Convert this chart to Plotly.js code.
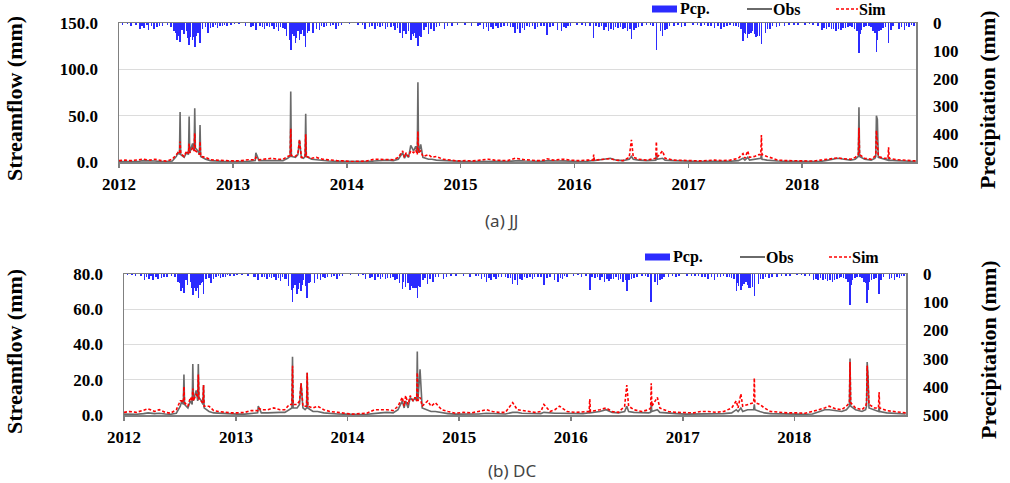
<!DOCTYPE html>
<html><head><meta charset="utf-8">
<script src="https://cdn.plot.ly/plotly-3.0.1.min.js"></script>
<style>html,body{margin:0;padding:0;background:#fff}#chart{width:1010px;height:483px}</style>
</head><body><div id="chart"></div>
<script>
// ---- streamflow (mm): shared dates, observed & simulated for JJ and DC ----
const flowDates = [
 "2012-01-01","2012-01-20","2012-02-10","2012-03-05","2012-03-20","2012-04-10","2012-04-25","2012-05-15","2012-06-01","2012-06-20","2012-07-03","2012-07-08","2012-07-13","2012-07-15","2012-07-17","2012-07-28","2012-08-05","2012-08-11","2012-08-13","2012-08-15","2012-08-24","2012-08-29","2012-08-31","2012-09-02","2012-09-10","2012-09-15","2012-09-17","2012-09-19","2012-10-05","2012-10-20","2012-11-05","2012-11-25","2012-12-15",
 "2013-01-05","2013-01-30","2013-02-20","2013-03-13","2013-03-15","2013-03-25","2013-04-15","2013-05-05","2013-05-25","2013-06-10","2013-06-25","2013-07-03","2013-07-05","2013-07-07","2013-07-20","2013-07-28","2013-08-02","2013-08-08","2013-08-15","2013-08-20","2013-08-22","2013-08-24","2013-09-10","2013-09-25","2013-10-15","2013-11-05","2013-11-30","2013-12-20",
 "2014-01-15","2014-02-10","2014-03-05","2014-03-30","2014-04-20","2014-05-10","2014-05-30","2014-06-15","2014-06-29","2014-07-05","2014-07-10","2014-07-18","2014-07-25","2014-08-03","2014-08-10","2014-08-15","2014-08-17","2014-08-19","2014-08-26","2014-09-02","2014-09-20","2014-10-01","2014-10-15","2014-11-05","2014-11-25","2014-12-20",
 "2015-01-15","2015-02-10","2015-03-05","2015-03-31","2015-04-20","2015-05-10","2015-06-01","2015-06-25","2015-07-10","2015-07-25","2015-08-15","2015-09-05","2015-09-25","2015-10-05","2015-10-25","2015-11-10","2015-11-25","2015-12-20",
 "2016-01-15","2016-02-10","2016-03-01","2016-03-03","2016-03-05","2016-04-05","2016-04-25","2016-05-15","2016-06-05","2016-06-25","2016-07-02","2016-07-08","2016-07-25","2016-08-20","2016-09-12","2016-09-18","2016-09-20","2016-09-22","2016-10-10","2016-10-18","2016-11-15","2016-12-10",
 "2017-01-10","2017-02-05","2017-03-01","2017-03-25","2017-04-20","2017-05-15","2017-06-10","2017-06-25","2017-07-01","2017-07-10","2017-07-16","2017-08-01","2017-08-15","2017-08-21","2017-08-23","2017-08-25","2017-09-10","2017-09-25","2017-10-15","2017-11-10","2017-12-10",
 "2018-01-10","2018-02-05","2018-03-01","2018-03-25","2018-04-10","2018-04-25","2018-05-15","2018-06-05","2018-06-20","2018-06-30","2018-07-02","2018-07-04","2018-07-20","2018-08-10","2018-08-22","2018-08-25","2018-08-27","2018-08-30","2018-09-02","2018-09-20","2018-10-03","2018-10-05","2018-10-07","2018-10-30","2018-11-20","2018-12-15","2018-12-31"
];
const obsJJ = [
 0.5,0.4,0.4,0.8,1.5,0.8,1.0,0.6,0.4,1.0,6,10,8,54,8,5,10,8,49,10,20,12,58,15,12,8,40,6,3,1.5,1,0.8,0.6,
 0.5,0.5,0.8,1.5,10,1.5,1.5,2,2,1.5,4,6,76,6,5,8,24,5,4,6,52,6,3,2.5,1.5,1,0.8,0.6,
 0.3,0.3,0.4,1,1.5,2,1.5,3,10,4,8,5,18,12,17,10,86,10,19,5,3,3,2,1.5,1,0.6,
 0.5,0.4,0.6,1,1,0.8,0.6,1.5,1.5,1,0.8,0.6,0.8,1.5,1,1,1.2,0.8,
 0.6,0.8,1.5,4,1.5,3,4,2,1.5,3,6,3,2,1.5,1.5,2,8,3,4,2,1.5,1,
 0.6,0.5,0.8,0.8,0.6,0.8,1.5,4,2,5,2,3,4,4,8,3,2,1.5,1,0.8,0.6,
 0.5,0.4,0.6,2,3,4,3,2,3,6,59,6,3,2,4,6,50,46,5,3,2,5,2,1.5,1,0.8,0.6
];
const simJJ = [
 1.5,2,1.5,2.5,3,2,3,1.5,1,3,8,10,9,22,9,6,12,9,20,10,15,12,31,12,10,8,22,6,5,2.5,2,1.5,1.2,
 1.2,1.5,2.5,2.5,5,2.5,3,4,3,3,6,7,36,7,6,9,24,5,5,6,30,6,4,5,3,2,1.5,1.2,
 0.5,0.8,1,3,3,3,2.5,5,12,5,10,6,12,10,13,8,33,10,12,6,8,5,6,3,2,1.2,
 1.5,1.2,2,3,2,1.5,1.5,4,3,2.5,2,1.5,2,3.5,2,2.5,3,2,
 1.5,2,2,8,2,3,3.5,2,1.5,5,24,5,3,2,3,4,22,5,12,4,2,1.5,
 1.5,1.2,2,2,1.5,2,4,9,4,12,5,6,8,8,29,8,6,4,2,1.5,1.2,
 1.2,1,2,3,4,4.5,3.5,3,5,8,37,8,4,3,6,8,34,20,6,4,4,16,4,2.5,2,1.5,1.2
];
const obsDC = [
 0.5,0.4,0.4,0.8,1.2,0.8,1.0,0.6,0.4,1.0,5,8,6,23,6,4,8,6,29,8,14,8,29,10,8,6,17,4,2,1.2,1,0.8,0.6,
 0.5,0.5,0.8,1.2,5,1.2,1.2,1.5,1.5,1.5,3,4,33,4,4,6,18,4,3,4,24,4,2,2,1.2,0.8,0.6,0.5,
 0.3,0.3,0.4,1,1.2,1.5,1.2,3,8,4,8,4,10,8,10,8,36,8,26,4,3,2,2,1.2,0.8,0.5,
 0.5,0.4,0.6,1,1,0.8,0.6,1.5,1.5,1,0.8,0.6,0.8,1.5,1,1,1,0.8,
 0.6,0.8,1.2,3,1.2,2,3,1.5,1.2,2,5,2,1.5,1.2,1.2,1.5,6,2,3,1.5,1,0.8,
 0.5,0.5,0.8,0.8,0.6,0.8,1.2,3,2,4,2,3,3,3,6,3,2,1.2,0.8,0.6,0.5,
 0.5,0.4,0.6,2,3,3,2.5,2,3,5,32,5,3,2,3,5,30,22,4,3,2,4,2,1.2,1,0.8,0.6
];
const simDC = [
 1.5,2,1.5,2.5,3.5,2,3,1.5,1,3,8,8,7,16,7,5,10,8,15,8,12,10,23,9,8,7,17,5,5,2.5,2,1.5,1.2,
 1.2,1.5,2.5,2.5,4,3,3,4,3,3,6,6,28,6,6,8,18,5,5,5,24,5,4,5,3,2,1.5,1,
 0.5,0.8,1,3,3,3,2.5,5,10,5,11,6,11,8,10,8,24,8,10,5,8,5,7,3,2,1,
 1.5,1.2,2,3,2,1.5,1.5,7,3,2.5,2,1.5,2,6,2,3,5,2,
 1.5,2,2,9,2,3,4,2,1.5,5,17,5,3,2,3,4,18,5,10,4,2,1.5,
 1.5,1.2,2,2,1.5,2,4,8,4,12,5,6,7,7,21,7,6,4,2,1.5,1.2,
 1.2,1,2,3,4,5,3.5,3,5,7,30,7,4,3,5,7,28,18,6,4,4,13,4,2.5,2,1.5,1.2
];

// ---- precipitation (mm): main rain days, then lighter rain days ----
const pcpDates = [
 "2012-01-12","2012-02-08","2012-02-25","2012-03-08","2012-03-22","2012-04-05","2012-04-22","2012-05-10","2012-06-05","2012-06-25","2012-07-01","2012-07-05","2012-07-10","2012-07-15","2012-07-22","2012-07-27","2012-08-05","2012-08-09","2012-08-13","2012-08-18","2012-08-24","2012-08-27","2012-08-31","2012-09-05","2012-09-10","2012-09-13","2012-09-17","2012-09-25","2012-10-12","2012-10-28","2012-11-12","2012-11-28","2012-12-12","2012-12-26",
 "2013-01-20","2013-02-10","2013-02-28","2013-03-15","2013-03-28","2013-04-12","2013-04-28","2013-05-12","2013-05-27","2013-06-10","2013-06-22","2013-07-01","2013-07-05","2013-07-08","2013-07-12","2013-07-16","2013-07-20","2013-07-24","2013-07-28","2013-08-02","2013-08-06","2013-08-10","2013-08-16","2013-08-22","2013-08-28","2013-09-02","2013-09-15","2013-10-05","2013-10-20","2013-11-10","2013-11-28","2013-12-15",
 "2014-01-10","2014-02-05","2014-03-01","2014-03-15","2014-04-01","2014-04-18","2014-05-05","2014-05-22","2014-06-05","2014-06-20","2014-06-29","2014-07-03","2014-07-10","2014-07-18","2014-07-25","2014-07-30","2014-08-03","2014-08-06","2014-08-10","2014-08-13","2014-08-17","2014-08-21","2014-08-26","2014-09-05","2014-09-20","2014-10-08","2014-10-25","2014-11-10","2014-12-05","2014-12-22",
 "2015-01-15","2015-02-05","2015-02-25","2015-03-15","2015-04-01","2015-04-15","2015-05-01","2015-05-20","2015-06-10","2015-06-25","2015-07-10","2015-07-25","2015-08-10","2015-08-28","2015-09-15","2015-10-05","2015-10-25","2015-11-08","2015-11-20","2015-12-05","2015-12-20",
 "2016-01-10","2016-02-05","2016-03-03","2016-03-20","2016-04-05","2016-04-20","2016-05-05","2016-05-20","2016-06-05","2016-06-20","2016-07-02","2016-07-10","2016-07-25","2016-08-20","2016-09-10","2016-09-20","2016-10-10","2016-10-25","2016-11-15","2016-12-10",
 "2017-01-15","2017-02-10","2017-03-05","2017-03-25","2017-04-15","2017-05-05","2017-05-25","2017-06-10","2017-06-25","2017-06-30","2017-07-03","2017-07-10","2017-07-15","2017-07-20","2017-07-26","2017-08-01","2017-08-05","2017-08-10","2017-08-17","2017-08-23","2017-09-05","2017-09-20","2017-10-10","2017-11-05","2017-12-05",
 "2018-01-10","2018-02-05","2018-03-05","2018-03-20","2018-04-05","2018-04-20","2018-05-05","2018-05-20","2018-06-10","2018-06-25","2018-07-02","2018-07-06","2018-07-10","2018-07-25","2018-08-10","2018-08-16","2018-08-22","2018-08-27","2018-08-31","2018-09-10","2018-09-25","2018-10-05","2018-10-20","2018-11-08","2018-11-25","2018-12-10","2018-12-25",
 "2012-01-28","2012-03-15","2012-03-30","2012-04-14","2012-05-02","2012-05-20","2012-06-15","2012-10-05","2012-10-20","2012-11-05","2012-11-20","2012-12-05",
 "2013-01-05","2013-03-05","2013-04-05","2013-04-20","2013-05-05","2013-05-20","2013-06-02","2013-06-16","2013-09-25","2013-10-12","2013-10-28","2013-11-18","2013-12-05",
 "2014-02-20","2014-03-22","2014-04-10","2014-04-25","2014-05-12","2014-05-30","2014-06-12","2014-09-12","2014-09-28","2014-10-15","2014-11-20",
 "2015-03-05","2015-03-25","2015-04-08","2015-04-25","2015-05-10","2015-06-01","2015-06-18","2015-07-03","2015-07-18","2015-08-02","2015-08-20","2015-09-05","2015-09-25","2015-10-15","2015-11-28","2015-12-12",
 "2016-01-25","2016-02-20","2016-03-10","2016-03-28","2016-04-12","2016-04-28","2016-05-12","2016-05-28","2016-06-12","2016-06-28","2016-07-17","2016-08-05","2016-09-01","2016-10-03","2016-10-18","2016-11-01","2016-11-28","2016-12-20",
 "2017-01-30","2017-02-22","2017-03-15","2017-04-05","2017-04-25","2017-05-15","2017-06-03","2017-06-18","2017-09-12","2017-09-28","2017-10-20","2017-11-20","2017-12-18",
 "2018-01-25","2018-02-20","2018-03-12","2018-03-28","2018-04-12","2018-04-28","2018-05-12","2018-05-28","2018-06-03","2018-06-18","2018-07-18","2018-08-04","2018-09-04","2018-09-18","2018-10-12","2018-11-15","2018-12-02","2018-12-18"
];
const pcpJJ = [
 6,10,8,22,18,25,20,12,8,30,35,60,45,67,25,40,30,55,80,50,62,50,86,45,35,30,72,20,35,14,18,12,10,6,
 5,10,15,25,12,20,15,22,28,18,45,60,96,50,40,45,72,55,30,60,40,25,45,86,35,30,36,25,15,12,20,8,
 4,8,20,15,22,16,20,14,25,35,55,30,40,30,60,40,45,35,55,50,83,45,50,25,40,30,12,20,10,6,
 8,12,10,20,30,22,18,12,15,36,35,25,15,20,12,43,10,25,30,18,12,
 8,12,54,15,25,30,25,18,22,30,58,25,15,8,12,97,45,20,10,15,
 8,10,12,18,22,12,10,15,65,35,40,54,40,35,30,40,50,45,45,77,36,20,15,10,8,
 6,8,25,20,22,28,25,18,15,30,108,40,25,12,15,30,35,104,60,25,15,72,12,20,25,15,10,
 4,10,8,12,15,10,14,15,18,8,10,6,
 4,10,14,10,12,16,14,20,20,10,12,8,10,
 6,12,10,12,15,12,18,15,20,14,10,
 8,14,16,12,14,10,16,20,18,10,12,14,10,15,15,10,
 6,10,12,10,14,20,16,14,18,22,18,10,8,30,25,12,8,10,
 6,8,10,12,14,8,12,20,20,12,10,8,6,
 5,10,18,15,20,22,18,15,12,20,15,12,30,18,25,15,12,8
];
const pcpDC = [
 5,8,6,20,16,22,18,10,8,28,33,62,48,67,22,38,28,50,75,48,60,48,85,40,32,28,70,18,32,12,15,10,8,6,
 5,8,12,22,12,18,15,20,25,18,42,55,98,48,38,40,70,52,32,62,38,22,42,85,32,28,33,22,14,12,18,6,
 4,6,18,14,20,16,18,14,22,33,52,28,45,32,55,42,48,38,50,48,84,42,45,22,35,28,12,18,8,6,
 6,10,8,18,28,20,16,12,14,34,38,22,14,18,12,40,10,22,28,16,10,
 6,10,57,14,22,28,25,18,20,28,59,22,14,8,10,98,40,18,10,12,
 8,8,12,16,20,12,10,14,60,32,42,55,42,35,28,38,48,48,45,78,35,18,14,10,6,
 5,6,22,22,20,25,28,18,14,28,110,38,22,10,14,28,32,104,55,22,14,71,12,18,22,14,8,
 4,9,8,10,14,10,12,14,16,8,9,5,
 4,9,12,10,12,14,12,18,18,10,10,8,8,
 5,10,10,12,14,10,16,14,18,12,10,
 8,12,14,12,12,10,14,22,16,10,12,12,10,14,14,8,
 5,8,10,10,12,18,16,12,16,20,16,10,8,28,22,10,8,8,
 6,8,10,12,12,8,12,18,18,12,10,8,6,
 4,8,16,14,18,20,20,14,12,18,14,10,28,16,22,14,10,8
];

const xRange = ["2012-01-01","2019-01-01"];
const yearTicks = ["2012-01-01","2013-01-01","2014-01-01","2015-01-01","2016-01-01","2017-01-01","2018-01-01"];
const yearLabels = ["2012","2013","2014","2015","2016","2017","2018"];
const flowTicksJJ = [0,50,100,150];
const flowTicksDC = [0,20,40,60,80];
const pcpTicks = [0,100,200,300,400,500];
const panelLabels = ["(a) JJ","(b) DC"];
const seriesNames = ["Pcp.","Obs","Sim"];

const SERIF = 'Liberation Serif';
const tickFont = {family: SERIF, size: 17, color: '#000', weight: 700};
const titleFont = {family: SERIF, size: 22, color: '#000', weight: 700};
const legFont = {family: SERIF, size: 16, color: '#000', weight: 700};
const labelFont = {family: 'Noto Sans', size: 17, color: '#444', weight: 400};
const BLUE = '#2b2bff', GREY = '#6a6a6a', RED = '#ff0000';
const barW = 5 * 86400000;

const traces = [
 {type:'bar', x:pcpDates, y:pcpJJ, xaxis:'x', yaxis:'y2', name:seriesNames[0],
  marker:{color:BLUE, line:{width:0}}, width:barW},
 {type:'scatter', mode:'lines', x:flowDates, y:obsJJ, xaxis:'x', yaxis:'y', name:seriesNames[1],
  line:{color:GREY, width:1.6}},
 {type:'scatter', mode:'lines', x:flowDates, y:simJJ, xaxis:'x', yaxis:'y', name:seriesNames[2],
  line:{color:RED, width:1.6, dash:'3px,2px'}},
 {type:'bar', x:pcpDates, y:pcpDC, xaxis:'x2', yaxis:'y4', name:seriesNames[0],
  marker:{color:BLUE, line:{width:0}}, width:barW},
 {type:'scatter', mode:'lines', x:flowDates, y:obsDC, xaxis:'x2', yaxis:'y3', name:seriesNames[1],
  line:{color:GREY, width:1.6}},
 {type:'scatter', mode:'lines', x:flowDates, y:simDC, xaxis:'x2', yaxis:'y3', name:seriesNames[2],
  line:{color:RED, width:1.6, dash:'3px,2px'}}
];

const H = 483, W = 1010;
const px = v => v / W, py = v => 1 - v / H;

function xAx(dom, anchor){
 return {domain:dom, anchor:anchor, type:'date', range:xRange, tickvals:yearTicks, ticktext:yearLabels,
  ticks:'outside', ticklen:4, tickcolor:'#808080', tickwidth:1.5, showline:true, linecolor:'#808080',
  linewidth:1.5, mirror:true, showgrid:false, zeroline:false, tickfont:Object.assign({}, tickFont), ticklabelstandoff:2};
}
function yAx(dom, anchor, rng, ticks){
 return {domain:dom, anchor:anchor, range:rng, tickvals:ticks, tickformat:'.1f', showgrid:true,
  gridcolor:'#dcdcdc', gridwidth:1, showline:true, linecolor:'#808080', linewidth:1.5, mirror:true,
  ticks:'', zeroline:false, tickfont:Object.assign({}, tickFont), ticklabelstandoff:16};
}
function yRight(over, anchor, ticks){
 return {overlaying:over, anchor:anchor, side:'right', range:[500,0], tickvals:ticks, showgrid:false,
  zeroline:false, showline:false, ticks:'', tickfont:Object.assign({}, tickFont), ticklabelstandoff:16};
}
function ann(text, x, y, font, extra){
 return Object.assign({text:text, x:px(x), y:py(y), xref:'paper', yref:'paper', showarrow:false,
  font:font, xanchor:'center', yanchor:'middle'}, extra || {});
}

// hand-drawn legend (key swatches + real text), one per panel
function legendParts(x0, yc){
 const shapes = [
  {type:'rect', xref:'paper', yref:'paper', x0:px(x0), x1:px(x0+25), y0:py(yc+3.5), y1:py(yc-3.5),
   fillcolor:BLUE, line:{width:0}},
  {type:'line', xref:'paper', yref:'paper', x0:px(x0+95), x1:px(x0+120), y0:py(yc), y1:py(yc),
   line:{color:GREY, width:2}},
  {type:'line', xref:'paper', yref:'paper', x0:px(x0+184), x1:px(x0+206), y0:py(yc), y1:py(yc),
   line:{color:RED, width:1.6, dash:'3px,2px'}}
 ];
 const anns = [
  ann(seriesNames[0], x0+27, yc, legFont, {xanchor:'left', borderpad:0}),
  ann(seriesNames[1], x0+120, yc, legFont, {xanchor:'left', borderpad:0}),
  ann(seriesNames[2], x0+206, yc, legFont, {xanchor:'left', borderpad:0})
 ];
 return {shapes, anns};
}
const legA = legendParts(652, 9);
const legB = legendParts(645, 257);

const layout = {
 width:W, height:H, margin:{l:0, r:0, t:0, b:0}, paper_bgcolor:'#fff', plot_bgcolor:'#fff',
 font:{family:SERIF, size:17, color:'#000'},
 showlegend:false, bargap:0,
 xaxis: xAx([px(119), px(916)], 'y'),
 yaxis: yAx([py(162), py(23)], 'x', [0,150], flowTicksJJ),
 yaxis2: yRight('y', 'x', pcpTicks),
 xaxis2: xAx([px(124), px(906)], 'y3'),
 yaxis3: yAx([py(415), py(274)], 'x2', [0,80], flowTicksDC),
 yaxis4: yRight('y3', 'x2', pcpTicks),
 shapes: legA.shapes.concat(legB.shapes),
 annotations: [
  ann('Streamflow (mm)', 14, 99, titleFont, {textangle:-90}),
  ann('Precipitation (mm)', 988, 100, titleFont, {textangle:-90}),
  ann('Streamflow (mm)', 14, 352, titleFont, {textangle:-90}),
  ann('Precipitation (mm)', 988, 350, titleFont, {textangle:-90}),
  ann(panelLabels[0], 501, 221, labelFont),
  ann(panelLabels[1], 512, 470, labelFont)
 ].concat(legA.anns, legB.anns)
};

Plotly.newPlot('chart', traces, layout, {displayModeBar:false, staticPlot:true});
</script>
</body></html>
